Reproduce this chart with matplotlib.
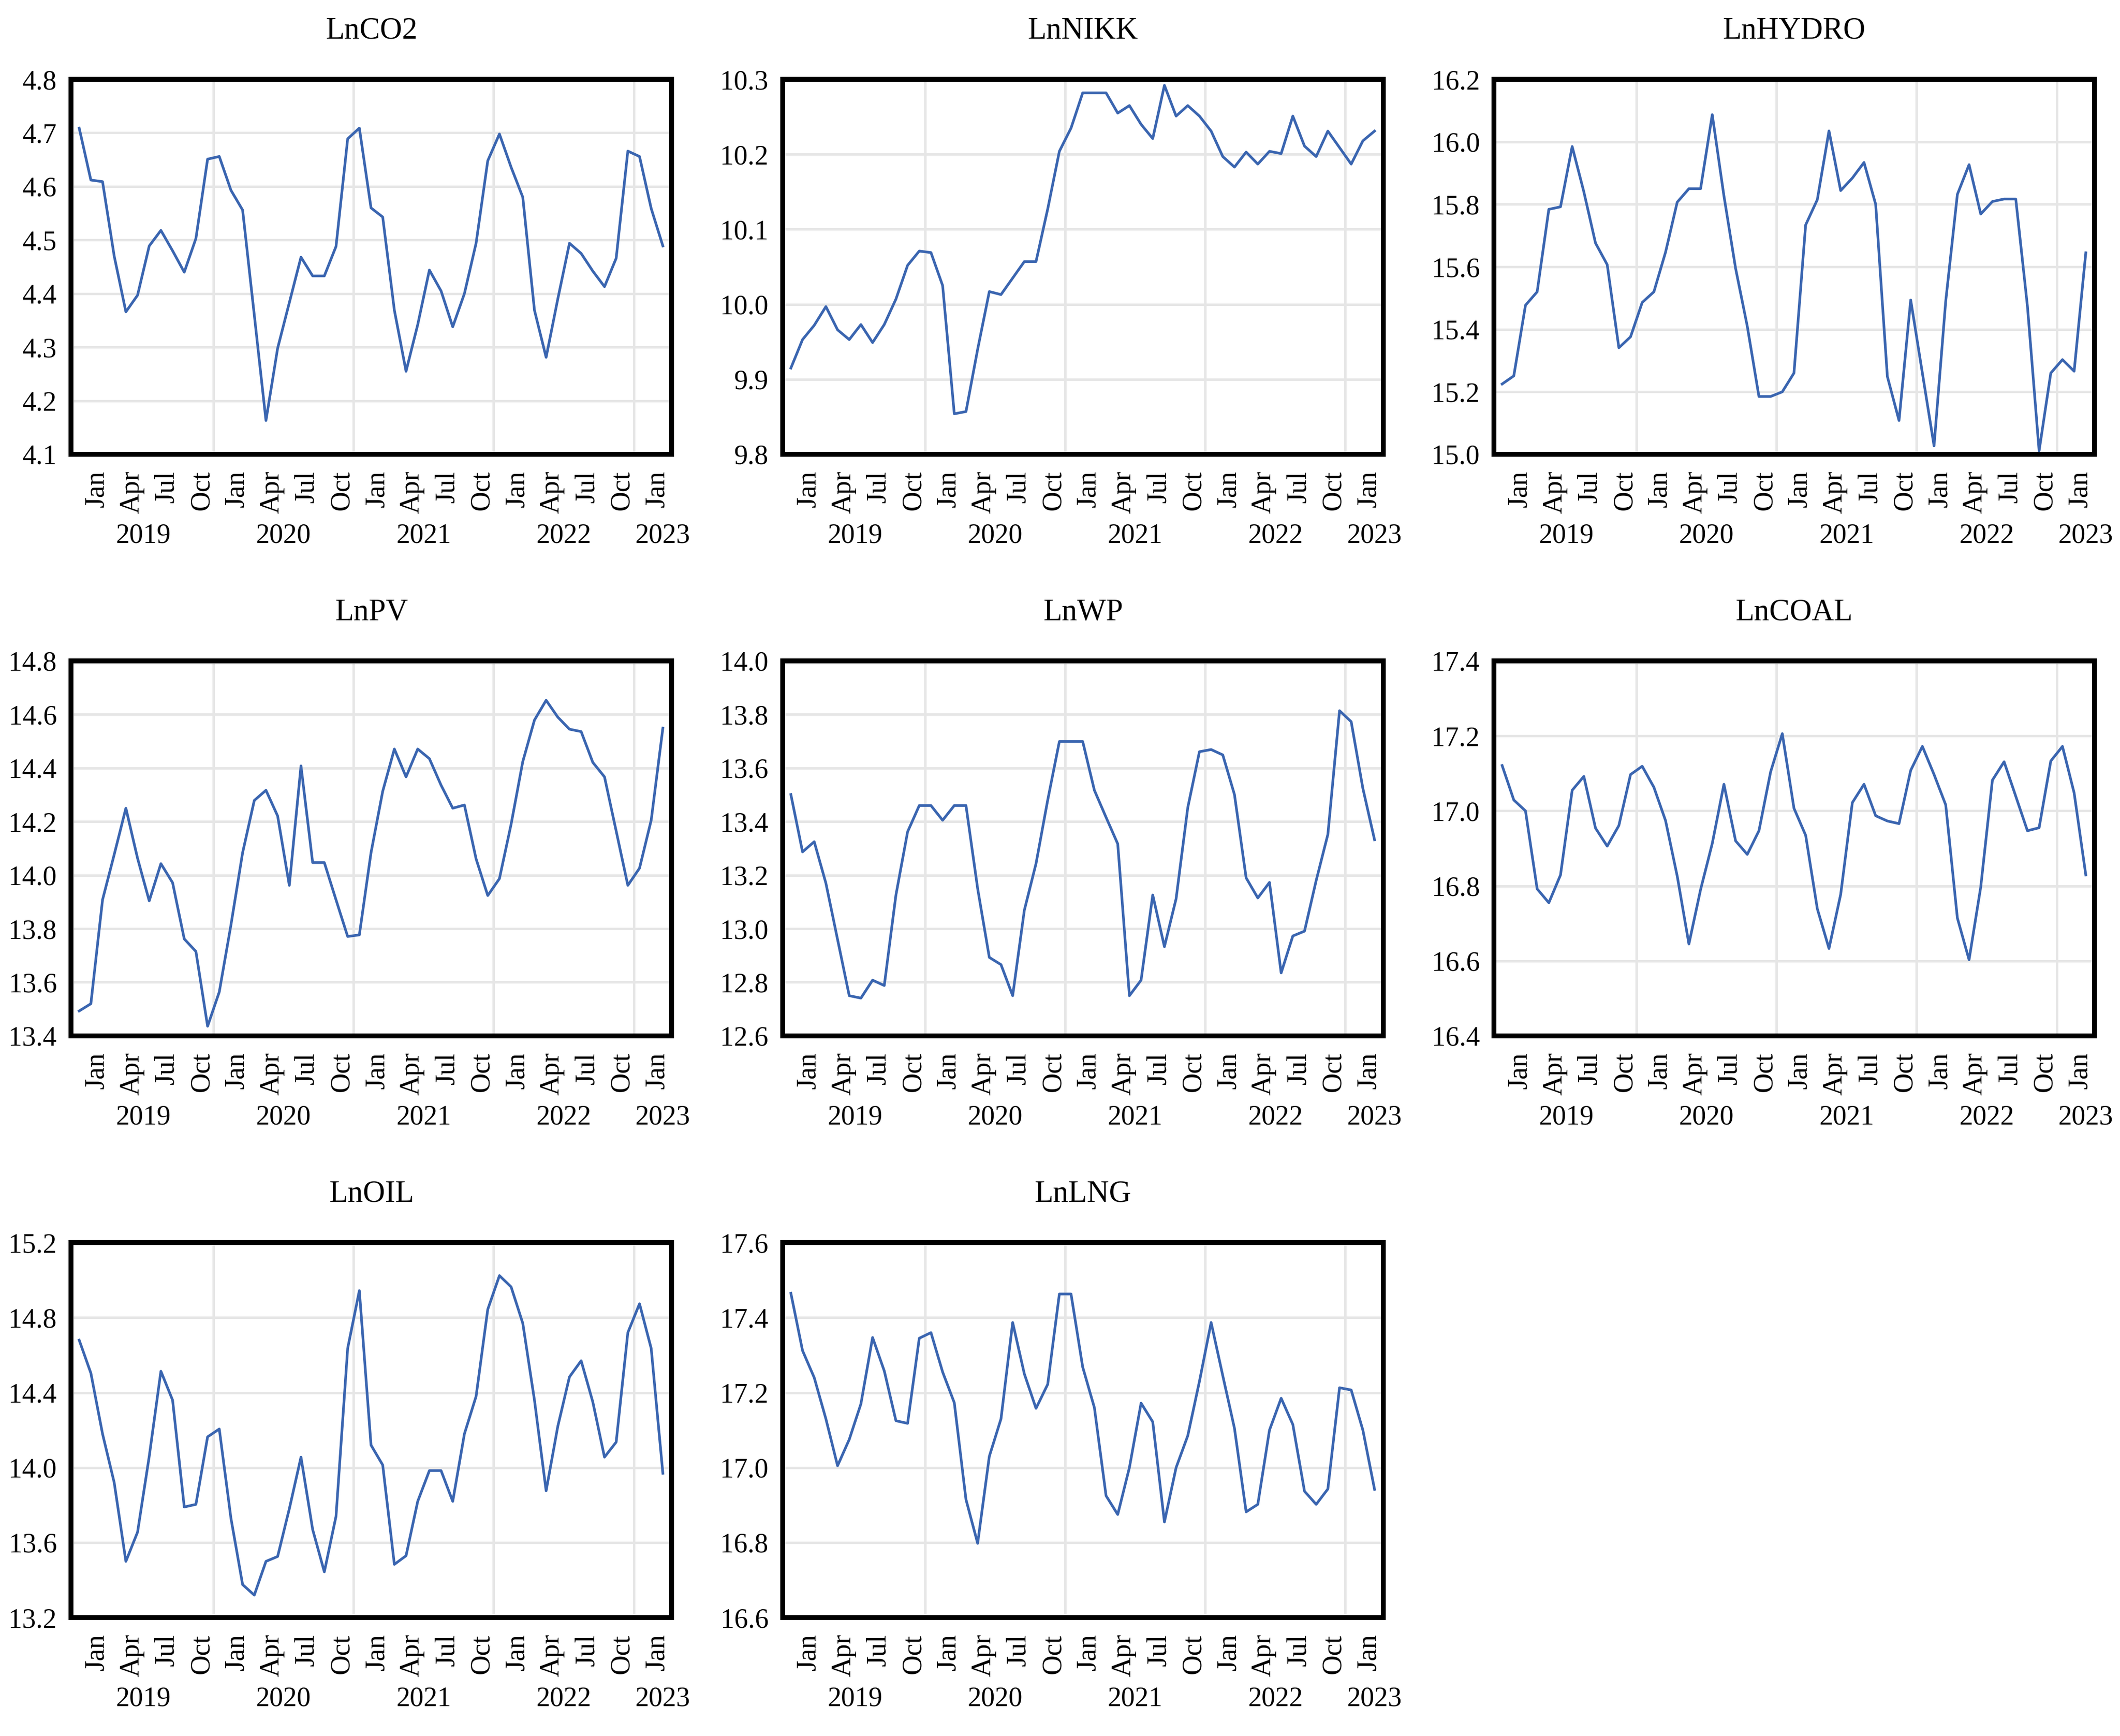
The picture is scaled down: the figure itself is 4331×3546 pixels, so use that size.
import numpy as np
import pandas as pd
import matplotlib
matplotlib.use("Agg")
import matplotlib.pyplot as plt

plt.rcParams['font.family'] = ['Liberation Serif', 'DejaVu Serif']

# monthly series, Jan 2019 .. Mar 2023 (51 obs)
months = pd.date_range('2019-01-01', periods=51, freq='MS')

ln_co2 = [4.709, 4.612, 4.609, 4.47, 4.366, 4.397, 4.489, 4.518, 4.48, 4.44,
          4.503, 4.651, 4.656, 4.593, 4.556, 4.36, 4.163, 4.298, 4.383, 4.468,
          4.433, 4.433, 4.488, 4.689, 4.709, 4.560, 4.543, 4.369, 4.255, 4.342,
          4.444, 4.405, 4.338, 4.400, 4.494, 4.648, 4.698, 4.636, 4.580, 4.369,
          4.281, 4.39, 4.494, 4.475, 4.442, 4.413, 4.466, 4.666, 4.656, 4.559,
          4.489]
ln_nikk = [9.915, 9.953, 9.972, 9.997, 9.966, 9.953, 9.973, 9.949, 9.973, 10.007,
           10.052, 10.071, 10.069, 10.025, 9.854, 9.857, 9.94, 10.017, 10.013, 10.035,
           10.057, 10.057, 10.127, 10.204, 10.235, 10.282, 10.282, 10.282, 10.255, 10.265,
           10.240, 10.221, 10.292, 10.251, 10.265, 10.251, 10.231, 10.197, 10.183, 10.203,
           10.187, 10.204, 10.201, 10.251, 10.211, 10.197, 10.231, 10.209, 10.187, 10.218,
           10.231]
ln_hydro = [15.225, 15.251, 15.477, 15.520, 15.784, 15.792, 15.985, 15.84, 15.676, 15.607,
            15.341, 15.376, 15.486, 15.520, 15.647, 15.807, 15.850, 15.850, 16.087, 15.827,
            15.595, 15.41, 15.185, 15.185, 15.200, 15.260, 15.734, 15.815, 16.035, 15.844,
            15.884, 15.934, 15.800, 15.249, 15.108, 15.494, 15.26, 15.027, 15.49, 15.832,
            15.927, 15.769, 15.809, 15.817, 15.817, 15.474, 15.011, 15.260, 15.303, 15.266,
            15.645]
ln_pv = [13.493, 13.520, 13.908, 14.077, 14.250, 14.063, 13.904, 14.043, 13.972, 13.762,
         13.715, 13.436, 13.564, 13.814, 14.084, 14.279, 14.317, 14.221, 13.962, 14.408,
         14.047, 14.047, 13.908, 13.771, 13.777, 14.084, 14.313, 14.471, 14.367, 14.471,
         14.435, 14.336, 14.250, 14.262, 14.061, 13.924, 13.987, 14.19, 14.424, 14.579,
         14.653, 14.590, 14.545, 14.536, 14.421, 14.367, 14.165, 13.962, 14.026, 14.205,
         14.549]
ln_wp = [13.501, 13.287, 13.325, 13.17, 12.96, 12.750, 12.741, 12.808, 12.788, 13.126,
         13.362, 13.460, 13.460, 13.405, 13.460, 13.460, 13.15, 12.893, 12.866, 12.750,
         13.069, 13.243, 13.48, 13.699, 13.699, 13.699, 13.517, 13.416, 13.317, 12.750,
         12.808, 13.126, 12.933, 13.112, 13.452, 13.661, 13.669, 13.649, 13.501, 13.190,
         13.115, 13.173, 12.835, 12.973, 12.991, 13.18, 13.352, 13.814, 13.773, 13.524,
         13.332]
ln_coal = [17.121, 17.029, 17.000, 16.792, 16.755, 16.829, 17.055, 17.092, 16.954, 16.906,
           16.961, 17.097, 17.119, 17.063, 16.974, 16.826, 16.645, 16.79, 16.913, 17.071,
           16.920, 16.884, 16.947, 17.104, 17.206, 17.007, 16.935, 16.739, 16.633, 16.777,
           17.022, 17.071, 16.987, 16.973, 16.966, 17.108, 17.172, 17.097, 17.016, 16.714,
           16.603, 16.797, 17.082, 17.131, 17.039, 16.947, 16.955, 17.133, 17.172, 17.048,
           16.829]
ln_oil = [14.680, 14.504, 14.18, 13.920, 13.500, 13.656, 14.06, 14.514, 14.360, 13.790,
          13.804, 14.164, 14.206, 13.73, 13.376, 13.320, 13.500, 13.526, 13.78, 14.056,
          13.670, 13.444, 13.74, 14.636, 14.944, 14.120, 14.014, 13.484, 13.530, 13.820,
          13.984, 13.984, 13.820, 14.180, 14.380, 14.844, 15.024, 14.964, 14.770, 14.36,
          13.876, 14.22, 14.484, 14.570, 14.35, 14.056, 14.136, 14.720, 14.874, 14.636,
          13.970]
ln_lng = [17.465, 17.312, 17.240, 17.13, 17.005, 17.075, 17.170, 17.347, 17.258, 17.125,
          17.118, 17.345, 17.360, 17.255, 17.173, 16.915, 16.798, 17.030, 17.130, 17.387,
          17.250, 17.158, 17.222, 17.463, 17.463, 17.268, 17.160, 16.925, 16.875, 17.0,
          17.172, 17.122, 16.855, 17.0, 17.085, 17.23, 17.387, 17.245, 17.105, 16.882,
          16.902, 17.1, 17.185, 17.115, 16.937, 16.902, 16.943, 17.213, 17.207, 17.1,
          16.942]

titles = ['LnCO2', 'LnNIKK', 'LnHYDRO', 'LnPV', 'LnWP', 'LnCOAL', 'LnOIL', 'LnLNG']
series = [ln_co2, ln_nikk, ln_hydro, ln_pv, ln_wp, ln_coal, ln_oil, ln_lng]
y_ranges = [(4.1, 4.8, 0.1), (9.8, 10.3, 0.1), (15.0, 16.2, 0.2), (13.4, 14.8, 0.2),
            (12.6, 14.0, 0.2), (16.4, 17.4, 0.2), (13.2, 15.2, 0.4), (16.6, 17.6, 0.2)]

month_names = ['Jan', 'Apr', 'Jul', 'Oct']
year_names = ['2019', '2020', '2021', '2022', '2023']

line_color = '#3A65B0'
grid_color = '#E6E6E6'

fig = plt.figure(figsize=(4331 / 300, 3546 / 300), dpi=300)

lefts = [0.0335, 0.3692, 0.7047]
bottoms = [0.7383, 0.4033, 0.0682]
w, h = 0.2833, 0.2160

x = np.arange(len(months))
# quarter labels (drawn offset like the original EViews output)
q_idx = [i for i, m in enumerate(months) if m.month in (1, 4, 7, 10)]
q_pos = [i + 1.5 for i in q_idx]
q_lab = [months[i].strftime('%b') for i in q_idx]
year_bounds = [i - 0.5 for i, m in enumerate(months) if m.month == 1 and i > 0]
year_pos = [5.5, 17.5, 29.5, 41.5, 50.0]

for n, (title, vals, (lo, hi, step)) in enumerate(zip(titles, series, y_ranges)):
    r, c = divmod(n, 3)
    ax = fig.add_axes([lefts[c], bottoms[r], w, h])
    ax.plot(x, vals, color=line_color, lw=1.3, zorder=3)
    ax.set_xlim(-0.7, 50.75)
    ax.set_ylim(lo, hi)
    ax.set_yticks(np.arange(lo, hi + step / 2, step))
    ax.yaxis.set_major_formatter(plt.FormatStrFormatter('%.1f'))
    ax.set_xticks(q_pos)
    ax.set_xticklabels(q_lab, rotation=90, va='top', ha='center')
    ax.set_xticks(year_bounds, minor=True)
    ax.tick_params(axis='both', which='both', length=0, labelsize=13.5)
    ax.tick_params(axis='y', pad=7)
    ax.tick_params(axis='x', pad=8)
    ax.grid(axis='y', which='major', color=grid_color, lw=1.2)
    ax.grid(axis='x', which='minor', color=grid_color, lw=1.2)
    ax.set_axisbelow(True)
    for sp in ax.spines.values():
        sp.set_linewidth(2.4)
        sp.set_color('black')
    ax.set_title(title, fontsize=15, pad=20)
    for yp, yl in zip(year_pos, year_names):
        ax.annotate(yl, xy=(yp, 0), xycoords=('data', 'axes fraction'),
                    xytext=(0, -40), textcoords='offset points',
                    ha='center', va='center', fontsize=13.5)

fig.savefig('out.png', dpi=300)
